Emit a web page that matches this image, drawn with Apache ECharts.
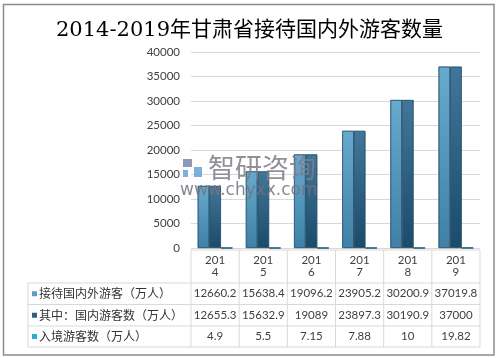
<!DOCTYPE html>
<html><head><meta charset="utf-8">
<script src="https://cdn.jsdelivr.net/npm/echarts@6/dist/echarts.min.js"></script>
<style>html,body{margin:0;padding:0;background:#fff}#c{width:499px;height:358px}</style>
</head><body><div id="c"></div>
<script>
const years = ['2014','2015','2016','2017','2018','2019'];
const seriesNames = ['接待国内外游客（万人）','其中：国内游客数（万人）','入境游客数（万人）'];
const totalVisitors = [12660.2, 15638.4, 19096.2, 23905.2, 30200.9, 37019.8];
const domesticVisitors = [12655.3, 15632.9, 19089, 23897.3, 30190.9, 37000];
const inboundVisitors = [4.9, 5.5, 7.15, 7.88, 10, 19.82];
const yTicks = {min: 0, max: 40000, interval: 5000};
const titleText = '2014-2019年甘肃省接待国内外游客数量';

const legendColors = ['#5E9DC0', '#2F5F80', '#2FA8DA'];
const numFont = 'Lato, "Noto Sans CJK SC", sans-serif';
const cjkFont = '"Noto Sans CJK SC", sans-serif';

const chart = echarts.init(document.getElementById('c'), null, {renderer: 'canvas'});
const grad = (a, b) => new echarts.graphic.LinearGradient(0, 0, 0, 1, [{offset: 0, color: a}, {offset: 1, color: b}]);
const seriesData = [totalVisitors, domesticVisitors, inboundVisitors];
const barColors = [grad('#68AACE', '#3F80A6'), grad('#42769A', '#1C4B6A'), grad('#4CC0EA', '#1E8CC0')];

const G = {left: 191, right: 19, top: 52, bottom: 110};

chart.setOption({
  animation: false,
  title: {
    text: titleText, left: 'center', top: 15,
    textStyle: {fontFamily: '"DejaVu Serif", "Noto Sans CJK SC", serif', fontSize: 21, fontWeight: 'normal', color: '#000'}
  },
  grid: {left: G.left, right: G.right, top: G.top, bottom: G.bottom, containLabel: false},
  xAxis: {
    type: 'category', data: years,
    axisLine: {show: false}, axisTick: {show: false},
    axisLabel: {
      interval: 0, margin: 6, fontSize: 11.5, lineHeight: 12, color: '#404040', fontFamily: numFont,
      formatter: v => v.slice(0, 3) + '\n' + v.slice(3)
    }
  },
  yAxis: {
    type: 'value', min: yTicks.min, max: yTicks.max, interval: yTicks.interval,
    axisLine: {show: false}, axisTick: {show: false},
    axisLabel: {margin: 11, fontSize: 11.5, color: '#404040', fontFamily: numFont, formatter: v => String(v)},
    splitLine: {lineStyle: {color: '#D9D9D9', width: 1}}
  },
  series: seriesData.map((d, i) => ({
    name: seriesNames[i], type: 'bar', data: d,
    barGap: '0%', barCategoryGap: '28%',
    itemStyle: {color: barColors[i], borderColor: '#24506C', borderWidth: 0.6}
  }))
});

function drawTable() {
  const els = [];
  const lineC = '#D9D9D9';
  const x0 = G.left, x1 = 499 - G.right;
  const cw = (x1 - x0) / years.length;
  const leftX = 28;
  const rowsY = [283, 304.5, 326, 347];
  const headTop = 250;
  els.push({type: 'line', shape: {x1: x0, y1: headTop, x2: x1, y2: headTop}, style: {stroke: lineC, lineWidth: 1}});
  rowsY.forEach(y => els.push({type: 'line', shape: {x1: leftX, y1: y, x2: x1, y2: y}, style: {stroke: lineC, lineWidth: 1}}));
  for (let k = 0; k <= years.length; k++) {
    const x = x0 + k * cw;
    els.push({type: 'line', shape: {x1: x, y1: headTop, x2: x, y2: rowsY[3]}, style: {stroke: lineC, lineWidth: 1}});
  }
  els.push({type: 'line', shape: {x1: leftX, y1: rowsY[0], x2: leftX, y2: rowsY[3]}, style: {stroke: lineC, lineWidth: 1}});
  seriesData.forEach((arr, r) => {
    const cy = (rowsY[r] + rowsY[r + 1]) / 2;
    els.push({type: 'rect', shape: {x: 32, y: cy - 2.5, width: 5, height: 5}, style: {fill: legendColors[r]}});
    els.push({type: 'text', x: 39, y: cy, style: {text: seriesNames[r], fontSize: 12, fontFamily: cjkFont, fill: '#333', textVerticalAlign: 'middle', verticalAlign: 'middle'}});
    arr.forEach((v, i) => {
      const px = chart.convertToPixel({xAxisIndex: 0}, i);
      els.push({type: 'text', x: px, y: cy, style: {text: String(v), fontSize: 11.5, fontFamily: numFont, fill: '#404040', align: 'center', verticalAlign: 'middle', textAlign: 'center', textVerticalAlign: 'middle'}});
    });
  });
  els.push({type: 'rect', shape: {x: 3.5, y: 4.5, width: 490.5, height: 350.5}, style: {fill: 'none', stroke: '#8C8C8C', lineWidth: 1.5}});
  // watermark (on top of the bars)
  const wm = {zlevel: 1, z: 100};
  els.push(Object.assign({type: 'rect', shape: {x: 183, y: 159, width: 9, height: 8}, style: {fill: '#7F8FB0', opacity: 0.9}}, wm));
  els.push(Object.assign({type: 'rect', shape: {x: 194, y: 167, width: 8, height: 10}, style: {fill: '#6FA9D8', opacity: 0.9}}, wm));
  els.push(Object.assign({type: 'rect', shape: {x: 183, y: 170, width: 5, height: 7}, style: {fill: '#6FA9D8', opacity: 0.9}}, wm));
  els.push(Object.assign({type: 'text', x: 208, y: 168, style: {text: '智研咨询', fontSize: 27, fontFamily: cjkFont, fill: 'rgba(125,125,135,0.85)', verticalAlign: 'middle', textVerticalAlign: 'middle'}}, wm));
  els.push(Object.assign({type: 'text', x: 180, y: 191, style: {text: 'www.chyxx.com', fontSize: 17, fontFamily: '"DejaVu Sans", sans-serif', fill: 'rgba(115,115,125,0.85)', verticalAlign: 'middle', textVerticalAlign: 'middle'}}, wm));
  chart.setOption({graphic: {elements: els}});
}
drawTable();
</script></body></html>
